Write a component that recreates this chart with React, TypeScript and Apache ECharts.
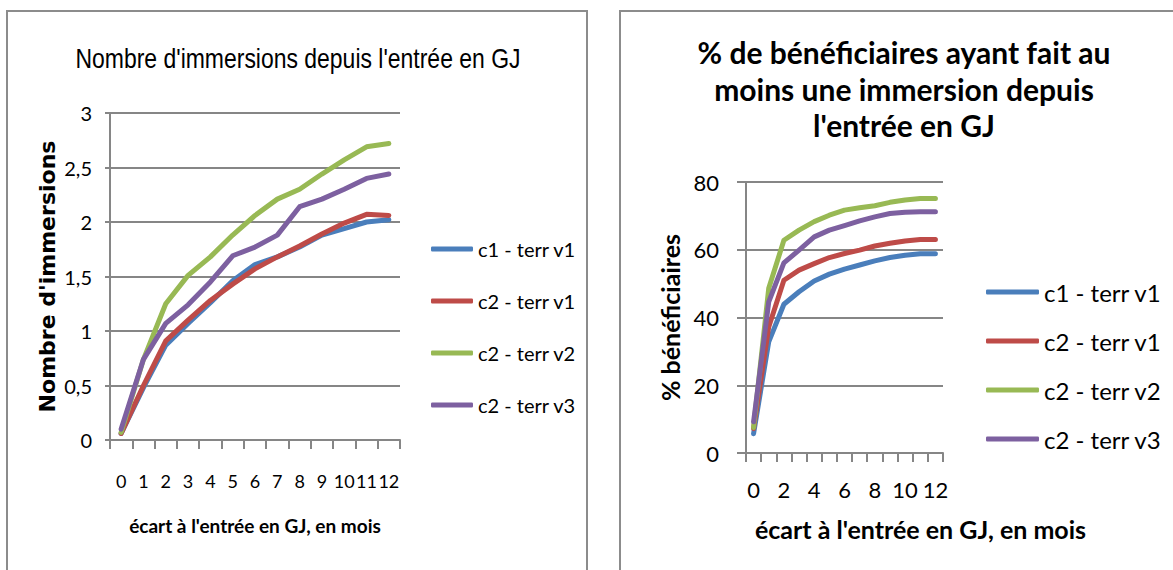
import React, { useEffect, useRef } from "react";
import * as echarts from "echarts";

const months = ["0", "1", "2", "3", "4", "5", "6", "7", "8", "9", "10", "11", "12"];
const seriesNames = ["c1 - terr v1", "c2 - terr v1", "c2 - terr v2", "c2 - terr v3"];
const seriesColors = ["#4a7ebb", "#be4b48", "#98b954", "#7d60a0"];

// Left chart: number of immersions
const immC1V1 = [0.06, 0.48, 0.87, 1.07, 1.26, 1.46, 1.61, 1.68, 1.77, 1.88, 1.94, 2.0, 2.02];
const immC2V1 = [0.06, 0.5, 0.91, 1.1, 1.28, 1.43, 1.57, 1.68, 1.78, 1.89, 1.99, 2.07, 2.06];
const immC2V2 = [0.07, 0.74, 1.25, 1.51, 1.68, 1.88, 2.06, 2.21, 2.3, 2.44, 2.57, 2.69, 2.72];
const immC2V3 = [0.1, 0.74, 1.07, 1.24, 1.45, 1.69, 1.77, 1.88, 2.14, 2.21, 2.3, 2.4, 2.44];

// Right chart: % beneficiaries
const pctC1V1 = [5.7, 32.8, 43.9, 47.6, 50.8, 52.8, 54.3, 55.5, 56.7, 57.7, 58.4, 58.8, 58.8];
const pctC2V1 = [7.2, 37.2, 51.0, 54.0, 55.9, 57.7, 58.9, 59.9, 61.1, 61.9, 62.6, 63.0, 63.0];
const pctC2V2 = [7.5, 48.6, 62.8, 65.8, 68.3, 70.2, 71.7, 72.4, 73.0, 74.0, 74.7, 75.1, 75.1];
const pctC2V3 = [9.2, 44.6, 56.1, 59.9, 63.8, 65.8, 67.1, 68.5, 69.7, 70.7, 71.1, 71.2, 71.2];

const leftTitle = "Nombre d'immersions depuis l'entrée en GJ";
const rightTitle = "% de bénéficiaires ayant fait au\nmoins une immersion depuis\nl'entrée en GJ";
const leftYName = "Nombre d'immersions";
const rightYName = "% bénéficiaires";
const xName = "écart à l'entrée en GJ, en mois";

const ARIAL = "'Liberation Sans', Arial, sans-serif";
const CAL = "Lato, 'Noto Sans', sans-serif";
const GRAY = "#868686";

export default function App() {
  const ref = useRef<HTMLDivElement>(null);
  useEffect(() => {
    document.body.style.margin = "0";
    if (!ref.current) return;
    const chart = echarts.init(ref.current, undefined, { renderer: "svg" });
    const leftData = [immC1V1, immC2V1, immC2V2, immC2V3];
    const rightData = [pctC1V1, pctC2V1, pctC2V2, pctC2V3];
    const mkSeries = (data: number[][], idx: number) =>
      data.map((d, i) => ({
        name: seriesNames[i],
        type: "line",
        xAxisIndex: idx,
        yAxisIndex: idx,
        data: d,
        symbol: "none",
        showSymbol: false,
        color: seriesColors[i],
        lineStyle: { width: 5, color: seriesColors[i], cap: "round", join: "round" },
      }));
    const xAxisBase = (gridIndex: number, size: number, margin: number, labelInterval: number, nameGap: number, nameFont: any) => ({
      type: "category",
      gridIndex,
      data: months,
      boundaryGap: true,
      axisLine: { show: true, lineStyle: { color: GRAY, width: 2 } },
      axisTick: { show: true, length: 9, interval: 0, lineStyle: { color: GRAY, width: 2 } },
      axisLabel: { interval: labelInterval, margin, color: "#000", fontFamily: CAL, fontSize: size },
      splitLine: { show: false },
      name: xName,
      nameLocation: "middle",
      nameGap,
      nameTextStyle: nameFont,
    });
    chart.setOption({
      animation: false,
      backgroundColor: "#fff",
      graphic: [
        { type: "rect", shape: { x: 7, y: 11, width: 580, height: 600 }, style: { fill: "none", stroke: "#8c8c8c", lineWidth: 2 }, silent: true },
        { type: "rect", shape: { x: 620, y: 11, width: 600, height: 600 }, style: { fill: "none", stroke: "#8c8c8c", lineWidth: 2 }, silent: true },
        {
          type: "text", x: 298, y: 58, scaleX: 0.82,
          style: { text: leftTitle, fontFamily: ARIAL, fontSize: 28, fill: "#000", align: "center", verticalAlign: "middle" },
        },
        {
          type: "text", x: 904, y: 88.5,
          style: { text: rightTitle, fontFamily: CAL, fontWeight: "bold", fontSize: 30, lineHeight: 36.5, fill: "#000", align: "center", verticalAlign: "middle" },
        },
      ],
      grid: [
        { left: 110, top: 113, width: 290, height: 327 },
        { left: 746, top: 182, width: 197, height: 271 },
      ],
      legend: [
        {
          orient: "vertical", left: 431, top: 238, padding: 0, itemWidth: 42, itemHeight: 5, itemGap: 30, icon: "roundRect",
          data: seriesNames, selectedMode: false,
          textStyle: { fontFamily: CAL, fontSize: 20, lineHeight: 22, color: "#000" },
        },
        {
          orient: "vertical", left: 986, top: 280, padding: 0, itemWidth: 53, itemHeight: 5, itemGap: 25, icon: "roundRect",
          data: seriesNames, selectedMode: false,
          textStyle: { fontFamily: CAL, fontSize: 24, lineHeight: 24, color: "#000" },
        },
      ],
      xAxis: [
        xAxisBase(0, 18, 32, 0, 76, { fontFamily: CAL, fontSize: 19, fontWeight: "bold", color: "#000" }),
        xAxisBase(1, 22, 25, 1, 63, { fontFamily: CAL, fontSize: 25, fontWeight: "bold", color: "#000", padding: [0, 0, 0, 152] }),
      ],
      yAxis: [
        {
          type: "value", gridIndex: 0, min: 0, max: 3, interval: 0.5,
          axisLine: { show: true, lineStyle: { color: GRAY, width: 2 } },
          axisTick: { show: true, length: 5, lineStyle: { color: GRAY, width: 2 } },
          axisLabel: { margin: 18, color: "#000", fontFamily: CAL, fontSize: 20, formatter: (v: number) => String(v).replace(".", ",") },
          splitLine: { show: true, lineStyle: { color: GRAY, width: 2 } },
          name: leftYName, nameLocation: "middle", nameGap: 52,
          nameTextStyle: { fontFamily: "'DejaVu Sans', sans-serif", fontWeight: "bold", fontSize: 22, color: "#000" },
        },
        {
          type: "value", gridIndex: 1, min: 0, max: 80, interval: 20,
          axisLine: { show: true, lineStyle: { color: GRAY, width: 2 } },
          axisTick: { show: true, length: 9, lineStyle: { color: GRAY, width: 2 } },
          axisLabel: { margin: 27, color: "#000", fontFamily: CAL, fontSize: 22 },
          splitLine: { show: true, lineStyle: { color: GRAY, width: 2 } },
          name: rightYName, nameLocation: "middle", nameGap: 64,
          nameTextStyle: { fontFamily: CAL, fontWeight: "bold", fontSize: 25, color: "#000" },
        },
      ],
      series: [...mkSeries(leftData, 0), ...mkSeries(rightData, 1)],
    });
    return () => chart.dispose();
  }, []);
  return <div ref={ref} style={{ width: 1173, height: 570 }} />;
}
